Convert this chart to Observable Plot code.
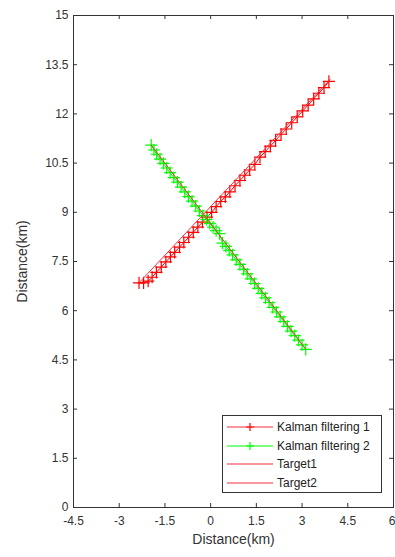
<!DOCTYPE html>
<html>
<head>
<meta charset="utf-8">
<script src="https://cdn.jsdelivr.net/npm/d3@7"></script>
<script src="https://cdn.jsdelivr.net/npm/@observablehq/plot@0.6"></script>
<style>
  body { margin: 0; background: #fff; }
  #wrap { position: relative; width: 395px; height: 557px; font-family: "Liberation Sans", Arial, sans-serif; }
  #legend { position: absolute; left: 222px; top: 415px; width: 160px; height: 78px; border: 1px solid #333; background: #fff; box-sizing: border-box; padding-top: 2px; }
  .row { height: 18.5px; display: flex; align-items: center; font-size: 12px; color: #222; }
  .row svg { margin-left: 4px; margin-right: 4px; }
</style>
</head>
<body>
<div id="wrap"></div>
<script>
const xTicks = [-4.5, -3, -1.5, 0, 1.5, 3, 4.5, 6];
const yTicks = [0, 1.5, 3, 4.5, 6, 7.5, 9, 10.5, 12, 13.5, 15];

const kalman1X = [-2.35, -2.20, -2.05, -1.92, -1.78, -1.62, -1.47, -1.32, -1.18, -1.02,
  -0.88, -0.72, -0.57, -0.42, -0.27, -0.12, 0.03, 0.18, 0.33, 0.48,
  0.63, 0.80, 0.96, 1.12, 1.28, 1.45, 1.62, 1.79, 1.96, 2.13,
  2.31, 2.48, 2.66, 2.84, 3.02, 3.20, 3.38, 3.55, 3.72, 3.88];
const kalman1Y = [6.85, 6.85, 6.90, 7.02, 7.17, 7.33, 7.49, 7.64, 7.78, 7.94,
  8.08, 8.24, 8.39, 8.55, 8.70, 8.85, 9.00, 9.17, 9.33, 9.47,
  9.62, 9.81, 9.97, 10.13, 10.29, 10.46, 10.68, 10.85, 11.02, 11.19,
  11.38, 11.54, 11.73, 11.91, 12.09, 12.27, 12.46, 12.63, 12.80, 12.99];

const kalman2X = [-1.95, -1.86, -1.77, -1.66, -1.55, -1.44, -1.33, -1.21, -1.09, -0.97,
  -0.85, -0.73, -0.61, -0.49, -0.37, -0.25, -0.14, -0.03, 0.08, 0.18,
  0.29, 0.39, 0.50, 0.61, 0.72, 0.84, 0.96, 1.08, 1.20, 1.32,
  1.44, 1.56, 1.68, 1.80, 1.92, 2.04, 2.16, 2.28, 2.40, 2.52,
  2.64, 2.76, 2.88, 3.00, 3.12];
const kalman2Y = [11.05, 10.90, 10.77, 10.62, 10.49, 10.35, 10.21, 10.06, 9.92, 9.77,
  9.62, 9.48, 9.34, 9.19, 9.04, 8.90, 8.78, 8.66, 8.55, 8.44,
  8.35, 8.06, 7.96, 7.84, 7.70, 7.55, 7.41, 7.26, 7.12, 6.97,
  6.83, 6.68, 6.53, 6.39, 6.25, 6.10, 5.96, 5.81, 5.67, 5.52,
  5.38, 5.24, 5.10, 4.96, 4.82];

const target1X = [-2.35, 3.92];
const target1Y = [6.85, 13.05];
const target2X = [-1.95, 3.12];
const target2Y = [11.05, 4.83];

const RED = "#ff0000";
const GREEN = "#00ff00";
const LINE_RED = "#f0303c";

const k1 = kalman1X.map((x, i) => ({x, y: kalman1Y[i]}));
const k2 = kalman2X.map((x, i) => ({x, y: kalman2Y[i]}));
const t1 = target1X.map((x, i) => ({x, y: target1Y[i]}));
const t2 = target2X.map((x, i) => ({x, y: target2Y[i]}));

const AX = "#333";
const fmt = d => String(d);
const xTicksMain = xTicks.slice(0, -1);
const xTicksLast = xTicks.slice(-1);

const chart = Plot.plot({
  width: 395,
  height: 557,
  marginLeft: 73,
  marginRight: 2,
  marginTop: 15,
  marginBottom: 50,
  style: {fontFamily: "'Liberation Sans', Arial, sans-serif", fontSize: "12px", color: AX, background: "#fff", overflow: "visible"},
  x: {domain: [-4.5, 6]},
  y: {domain: [0, 15]},
  marks: [
    Plot.frame({stroke: AX, strokeWidth: 1}),
    Plot.tickX(xTicks, {x: d => d, insetTop: 488, stroke: AX}),
    Plot.tickX(xTicks, {x: d => d, insetBottom: 488, stroke: AX}),
    Plot.tickY(yTicks, {y: d => d, insetRight: 316, stroke: AX}),
    Plot.tickY(yTicks, {y: d => d, insetLeft: 316, stroke: AX}),
    Plot.axisX({ticks: xTicksMain, tickSize: 0, tickPadding: 9, tickFormat: fmt, label: null, fill: AX}),
    Plot.axisX({ticks: xTicksLast, tickSize: 0, tickPadding: 9, tickFormat: fmt, label: null, fill: AX, textAnchor: "end", dx: 2}),
    Plot.axisY({ticks: yTicks, tickSize: 0, tickPadding: 5, tickFormat: fmt, label: null, fill: AX}),
    Plot.axisX({ticks: [], tickSize: 0, label: "Distance(km)", labelAnchor: "center", labelArrow: "none", labelOffset: 36, fontSize: 14, fill: AX}),
    Plot.axisY({ticks: [], tickSize: 0, label: "Distance(km)", labelAnchor: "center", labelArrow: "none", labelOffset: 56, fontSize: 14, fill: AX}),
    Plot.line(k1, {x: "x", y: "y", stroke: RED, strokeWidth: 1}),
    Plot.dot(k1, {x: "x", y: "y", symbol: "plus", r: 4, stroke: RED, strokeWidth: 1.2}),
    Plot.line(k2, {x: "x", y: "y", stroke: GREEN, strokeWidth: 1}),
    Plot.dot(k2, {x: "x", y: "y", symbol: "plus", r: 4, stroke: GREEN, strokeWidth: 1.2}),
    Plot.line(t1, {x: "x", y: "y", stroke: LINE_RED, strokeWidth: 1}),
    Plot.line(t2, {x: "x", y: "y", stroke: LINE_RED, strokeWidth: 1})
  ]
});

const wrap = document.getElementById("wrap");
wrap.appendChild(chart);

const legendItems = [
  {label: "Kalman filtering 1", color: LINE_RED, marker: RED},
  {label: "Kalman filtering 2", color: GREEN, marker: GREEN},
  {label: "Target1", color: LINE_RED, marker: null},
  {label: "Target2", color: LINE_RED, marker: null}
];
const legend = document.createElement("div");
legend.id = "legend";
for (const it of legendItems) {
  const row = document.createElement("div");
  row.className = "row";
  const svgNS = "http://www.w3.org/2000/svg";
  const s = document.createElementNS(svgNS, "svg");
  s.setAttribute("width", 46); s.setAttribute("height", 12);
  const ln = document.createElementNS(svgNS, "line");
  ln.setAttribute("x1", 0); ln.setAttribute("x2", 46); ln.setAttribute("y1", 6); ln.setAttribute("y2", 6);
  ln.setAttribute("stroke", it.color); ln.setAttribute("stroke-width", 1.2);
  s.appendChild(ln);
  if (it.marker) {
    const p = document.createElementNS(svgNS, "path");
    p.setAttribute("d", "M23,2L23,10M19,6L27,6");
    p.setAttribute("stroke", it.marker); p.setAttribute("stroke-width", 1.2);
    s.appendChild(p);
  }
  row.appendChild(s);
  const t = document.createElement("span");
  t.textContent = it.label;
  row.appendChild(t);
  legend.appendChild(row);
}
wrap.appendChild(legend);
</script>
</body>
</html>
